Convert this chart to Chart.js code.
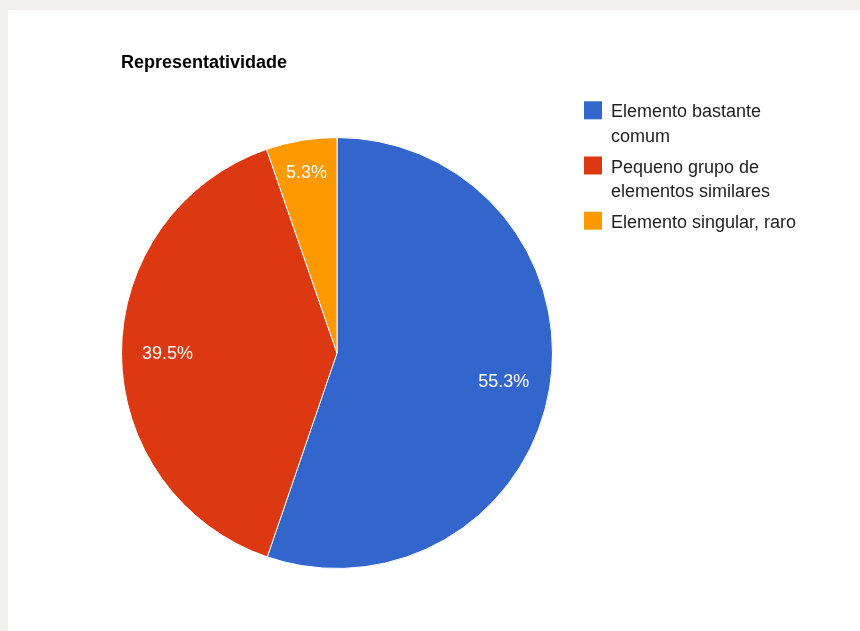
<!DOCTYPE html>
<html>
<head>
<meta charset="utf-8">
<title>Representatividade</title>
<script src="https://cdn.jsdelivr.net/npm/chart.js@4.4.1/dist/chart.umd.min.js"></script>
<style>
  html, body { margin: 0; padding: 0; }
  body { background: #f1f0ee; width: 860px; height: 631px; overflow: hidden; position: relative; }
  #card { position: absolute; left: 8px; top: 10px; right: 0; bottom: 0; background: #fff; }
  #chart { position: absolute; left: 0; top: 0; }
</style>
</head>
<body>
<div id="card"></div>
<canvas id="chart" width="860" height="631"></canvas>
<script>
// chart data
const chartTitle = 'Representatividade';
const categories = ['Elemento bastante comum', 'Pequeno grupo de elementos similares', 'Elemento singular, raro'];
const percentages = [55.3, 39.5, 5.3];
const colors = ['#3366cc', '#dc3912', '#ff9900'];

const FONT = '"Liberation Sans", Arial, sans-serif';

// split a legend entry into lines that fit maxWidth
function wrapText(ctx, text, maxWidth) {
    const words = text.split(' ');
    const lines = [];
    let line = '';
    words.forEach(function (w) {
        const test = line ? line + ' ' + w : w;
        if (line && ctx.measureText(test).width > maxWidth) {
            lines.push(line);
            line = w;
        } else {
            line = test;
        }
    });
    if (line) lines.push(line);
    return lines;
}

// title, legend and percentage labels drawn on the canvas
const decorations = {
    id: 'decorations',
    afterDraw(chart) {
        const ctx = chart.ctx;
        ctx.save();

        // title
        ctx.fillStyle = '#000';
        ctx.font = 'bold 18px ' + FONT;
        ctx.textAlign = 'left';
        ctx.textBaseline = 'alphabetic';
        ctx.fillText(chartTitle, 121, 68);

        // slice labels
        const meta = chart.getDatasetMeta(0);
        ctx.font = '18px ' + FONT;
        ctx.fillStyle = '#fff';
        ctx.textAlign = 'center';
        ctx.textBaseline = 'middle';
        meta.data.forEach(function (arc, i) {
            const p = arc.getProps(['x', 'y', 'startAngle', 'endAngle', 'outerRadius'], true);
            const mid = (p.startAngle + p.endAngle) / 2;
            const dx = Math.cos(mid), dy = Math.sin(mid);
            const text = percentages[i].toFixed(1) + '%';
            const hw = ctx.measureText(text).width / 2;
            const hh = 7;
            const limit = p.outerRadius - 20;
            // push the label outward until its box nearly touches the rim
            let r = 0;
            while (r < p.outerRadius) {
                const cx = (r + 0.5) * dx, cy = (r + 0.5) * dy;
                const fx = Math.abs(cx) + hw, fy = Math.abs(cy) + hh;
                if (Math.sqrt(fx * fx + fy * fy) > limit) break;
                r += 0.5;
            }
            ctx.fillText(text, p.x + r * dx, p.y + r * dy + 1);
        });

        // legend
        ctx.font = '18px ' + FONT;
        ctx.textAlign = 'left';
        ctx.textBaseline = 'alphabetic';
        let baseline = 117.3;
        categories.forEach(function (label, i) {
            const lines = wrapText(ctx, label, 200);
            ctx.fillStyle = colors[i];
            ctx.fillRect(584, baseline - 16, 18, 18);
            ctx.fillStyle = '#222';
            lines.forEach(function (ln, k) {
                ctx.fillText(ln, 611, baseline + k * 24.7);
            });
            baseline += (lines.length - 1) * 24.7 + 30.5;
        });

        ctx.restore();
    }
};

const ctx = document.getElementById('chart').getContext('2d');
const chart = new Chart(ctx, {
    type: 'pie',
    data: {
        labels: categories,
        datasets: [{
            data: percentages,
            backgroundColor: colors,
            borderColor: '#ffffff',
            borderWidth: 1,
            hoverOffset: 0
        }]
    },
    options: {
        responsive: false,
        animation: false,
        events: [],
        layout: {
            padding: { left: 121, top: 137, right: 307, bottom: 62 }
        },
        plugins: {
            legend: { display: false },
            title: { display: false },
            tooltip: { enabled: false }
        }
    },
    plugins: [decorations]
});
</script>
</body>
</html>
